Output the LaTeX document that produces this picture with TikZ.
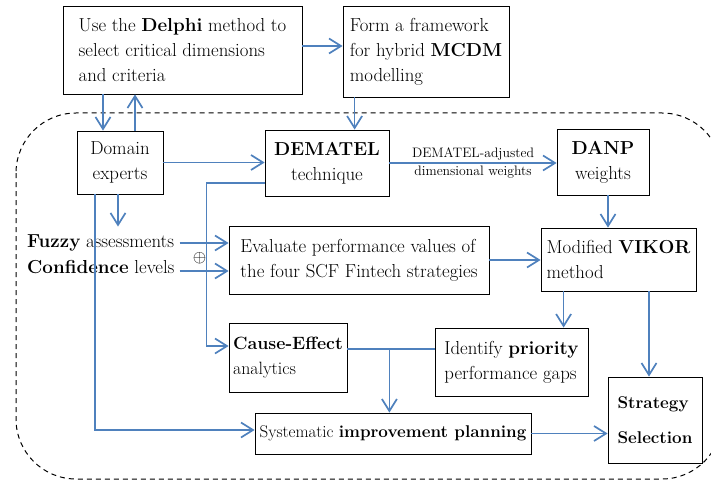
\documentclass[tikz,border=0pt]{standalone}
\usepackage{tikz}
\usetikzlibrary{arrows.meta,positioning}

\definecolor{linkblue}{RGB}{79,129,189}

\begin{document}
\begin{tikzpicture}[
        x=1pt, y=-1pt,
        font=\fontsize{18.8}{25}\selectfont,
        box/.style={draw, line width=0.8pt, align=left, inner sep=1.5pt},
        cbox/.style={box, align=center},
        plain/.style={inner sep=0pt},
        lbl/.style={inner sep=0pt, align=center, font=\fontsize{13.7}{18}\selectfont},
        link/.style={draw=linkblue, line width=1.7pt},
        arr/.style={link, -{Straight Barb[length=12pt, width=15pt]}}
    ]
    \useasboundingbox (0,0) rectangle (711,481);

    % Frame
    \draw[line width=1pt, dash pattern=on 5pt off 4pt, rounded corners=60] (16,113) rectangle (722,479);

    % Nodes
    \node (delphi)[box, minimum width=239, minimum height=88] at (182.5,50) {Use the \textbf{Delphi} method to\\
        select critical dimensions\\ and criteria};
    \node (mcdm)[box, minimum width=166, minimum height=91] at (426,51.5) {Form a framework\\
        for hybrid \textbf{MCDM}\\ modelling};
    \node (experts)[cbox, minimum width=86, minimum height=63] at (120,162.5) {Domain\\ experts};
    \node (dematel)[cbox, minimum width=124, minimum height=66] at (327,163) {\textbf{DEMATEL}\\ technique};
    \node (danp)[cbox, minimum width=92, minimum height=66] at (603,162) {\textbf{DANP}\\ weights};
    \node (eval)[box, minimum width=260, minimum height=68] at (359,260) {Evaluate performance values of\\
        the four SCF Fintech strategies};
    \node (vikor)[box, minimum width=155, minimum height=63] at (618.5,259.5) {Modified \textbf{VIKOR}\\ method};
    \node (cause)[box, minimum width=118, minimum height=69, font=\fontsize{17.8}{25}\selectfont]
        at (288,357.5) {\textbf{Cause-Effect}\\ analytics};
    \node (gaps)[box, minimum width=153, minimum height=68] at (511.5,362) {Identify \textbf{priority}\\
        performance gaps};
    \node (plan)[box, minimum width=276, minimum height=41, font=\fontsize{17}{25}\selectfont]
        at (393,433.5) {Systematic \textbf{improvement planning}};
    \node (select)[box, minimum width=94, minimum height=86, font=\fontsize{17}{35}\selectfont\bfseries]
        at (655,420) {Strategy\\ Selection};

    \node (fuzzy)[plain, anchor=west] at (27,243) {\textbf{Fuzzy} assessments};
    \node (conf)[plain, anchor=west] at (27,267) {\textbf{Confidence} levels};
    \node (oplus)[plain] at (199.5,258) {$\oplus$};
    \coordinate (split) at ([xshift=42, yshift=8.5]cause.east);
    \coordinate (confin) at ([yshift=-4]conf.east);

    % Edges
    \draw[arr] ([yshift=4]delphi.east) -- ([yshift=4]delphi.east -| mcdm.west);
    \draw[arr] ([xshift=-17]experts.north |- delphi.south) -- ([xshift=-17]experts.north);
    \draw[arr] ([xshift=15]experts.north) -- ([xshift=15]experts.north |- delphi.south);
    \draw[arr] ([xshift=12]mcdm.south west) -- ([xshift=12]mcdm.south west |- dematel.north);
    \draw[arr] (experts.east) -- (experts.east -| dematel.west);
    \draw[arr] (dematel.east) -- (dematel.east -| danp.west)
        node[lbl, midway] {DEMATEL-adjusted\\ dimensional weights};
    \draw[arr] ([xshift=5]danp.south) -- ([xshift=5]danp.south |- vikor.north);
    \draw[arr] ([yshift=-20]dematel.west) -- ++(-58,0) |- ([yshift=11.5]cause.west);
    \draw[arr, shorten >=8pt] ([xshift=-2]experts.south) -- ([xshift=-2]experts.south |- fuzzy.north);
    \draw[arr] ([xshift=-25]experts.south) |- ([yshift=3.5]plan.west);
    \draw[arr] ([xshift=-49]eval.west |- fuzzy.east) -- (fuzzy.east -| eval.west);
    \draw[arr] ([xshift=-49]eval.west |- confin) -- (confin -| eval.west);
    \draw[arr] (eval.east) -- (eval.east -| vikor.west);
    \draw[arr] ([xshift=23]vikor.south west) -- ([xshift=23]vikor.south west |- gaps.north);
    \draw[arr] ([xshift=-6]select.north |- vikor.south) -- ([xshift=-6]select.north);
    \draw[link] ([yshift=8.5]cause.east) -- ([yshift=8.5]cause.east -| gaps.west);
    \draw[arr] (split) -- (split |- plan.north);
    \draw[arr] (plan.east) -- (plan.east -| select.west);

\end{tikzpicture}
\end{document}
